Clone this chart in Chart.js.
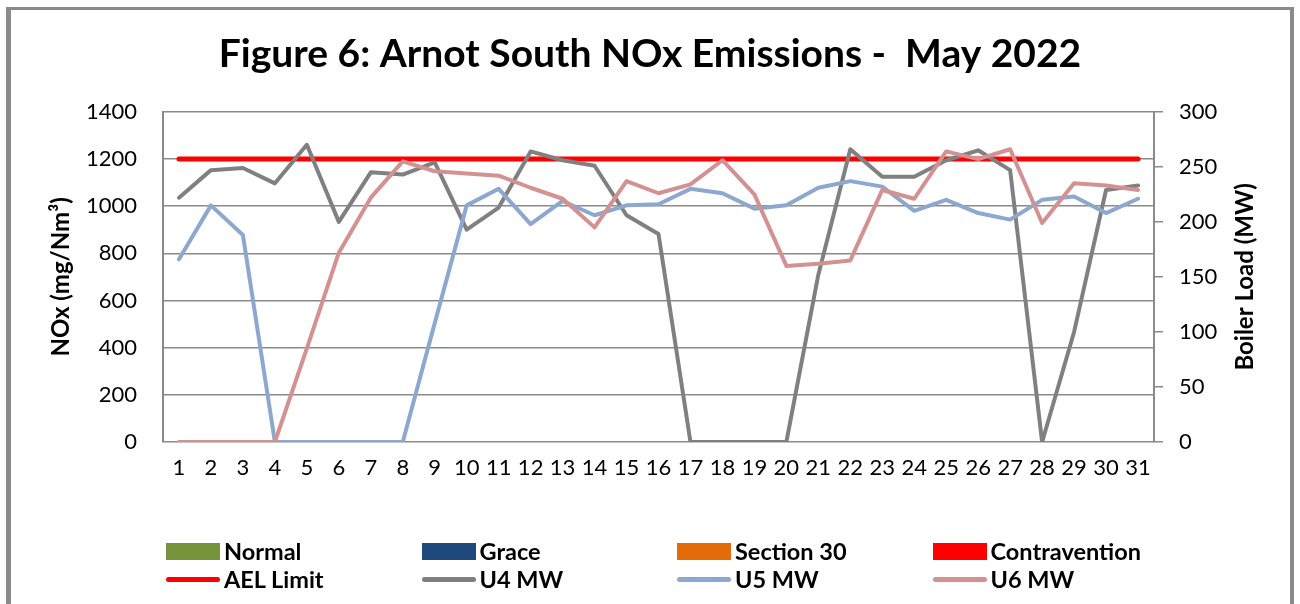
<!DOCTYPE html>
<html>
<head>
<meta charset="utf-8">
<script src="https://cdn.jsdelivr.net/npm/chart.js"></script>
<style>
  body { margin: 0; background: #fff; }
  #wrap { position: relative; width: 1300px; height: 604px; overflow: hidden; }
  #frame { position: absolute; left: 6px; top: 7px; width: 1279px; height: 700px;
           border: solid #8a8a8a; border-width: 3px 4px 0 5px; }
  canvas { position: absolute; left: 0; top: 0; }
  #legend { position: absolute; left: 166px; top: 537px; display: grid;
            grid-template-columns: repeat(4, 255.5px); grid-auto-rows: 28px;
            font: bold 23.5px Lato, sans-serif; color: #000; }
  .item { display: flex; align-items: center; white-space: nowrap; }
  .box { width: 54px; height: 17px; margin-right: 4px; }
  .line { width: 54px; height: 5px; border-radius: 3px; margin-right: 4px; }
</style>
</head>
<body>
<div id="wrap">
  <div id="frame"></div>
  <canvas id="myChart" width="1300" height="604"></canvas>
  <div id="legend"></div>
</div>
<script>
// Data

const days = ['1', '2', '3', '4', '5', '6', '7', '8', '9', '10', '11', '12', '13', '14', '15', '16',
  '17', '18', '19', '20', '21', '22', '23', '24', '25', '26', '27', '28', '29', '30', '31'];

const aelLimit = [1200, 1200, 1200, 1200, 1200, 1200, 1200, 1200, 1200, 1200, 1200, 1200, 1200, 1200, 1200, 1200,
  1200, 1200, 1200, 1200, 1200, 1200, 1200, 1200, 1200, 1200, 1200, 1200, 1200, 1200, 1200];

const u4MW = [222, 247, 249, 235, 270, 200, 245, 243, 254, 193, 213, 264, 256, 251, 206, 189,
  0, 0, 0, 0, 152, 266, 241, 241, 256, 265, 247, 0, 100, 229, 233];

const u5MW = [166, 215, 188, 0, 0, 0, 0, 0, 108, 215, 230, 198, 219, 206, 215, 216,
  230, 226, 212, 215, 231, 237, 232, 210, 220, 208, 202, 220, 223, 208, 221];

const u6MW = [0, 0, 0, 0, 85, 172, 222, 255, 246, 244, 242, 231, 221, 195, 237, 226,
  234, 256, 225, 160, 162, 165, 229, 221, 264, 257, 266, 199, 235, 233, 229];

const noxTicks = { min: 0, max: 1400, step: 200 };
const mwTicks = { min: 0, max: 300, step: 50 };

// Styles

const fontFamily = 'Lato, sans-serif';
const gridColor = '#8a8a8a';
const tickFont = { family: fontFamily, size: 22 };

function lineSet(label, data, color, axis, order, width) {
  return {
    type: 'line',
    label: label,
    data: data,
    yAxisID: axis,
    borderColor: color,
    backgroundColor: color,
    borderWidth: width || 4,
    borderCapStyle: 'round',
    borderJoinStyle: 'round',
    pointRadius: 0,
    tension: 0,
    order: order,
  };
}

function barSet(label, color) {
  return { type: 'bar', label: label, data: [], yAxisID: 'y', backgroundColor: color, order: 5 };
}

function plainNumber(value) {
  return String(value);
}

// Axis titles (right one reads bottom to top like the left one)

const axisTitles = {
  id: 'axisTitles',
  afterDraw(chart) {
    const ctx = chart.ctx;
    const mid = (chart.chartArea.top + chart.chartArea.bottom) / 2;
    ctx.save();
    ctx.font = 'bold 24px ' + fontFamily;
    ctx.fillStyle = '#000';
    ctx.textAlign = 'center';
    ctx.textBaseline = 'middle';
    [[61, 'NOx (mg/Nm³)'], [1245, 'Boiler Load (MW)']].forEach(function(t) {
      ctx.save();
      ctx.translate(t[0], mid);
      ctx.rotate(-Math.PI / 2);
      ctx.fillText(t[1], 0, 0);
      ctx.restore();
    });
    ctx.restore();
  }
};

// Chart

var ctx = document.getElementById('myChart').getContext('2d');

var chart = new Chart(ctx, {
  data: {
    labels: days,
    datasets: [
      barSet('Normal', '#77933C'),
      barSet('Grace', '#1F497D'),
      barSet('Section 30', '#E36C09'),
      barSet('Contravention', '#FF0000'),
      lineSet('AEL Limit', aelLimit, '#FF0000', 'y', 4, 5),
      lineSet('U4 MW', u4MW, '#808080', 'y1', 3),
      lineSet('U5 MW', u5MW, '#8DA8CF', 'y1', 2),
      lineSet('U6 MW', u6MW, '#D39191', 'y1', 1),
    ]
  },
  options: {
    responsive: false,
    animation: false,
    layout: { padding: { left: 0, right: 0, top: 0, bottom: 122 } },
    plugins: {
      legend: { display: false },
      tooltip: { enabled: false },
      title: {
        display: true,
        text: 'Figure 6: Arnot South NOx Emissions -  May 2022',
        color: '#000',
        font: { family: fontFamily, size: 39, weight: 'bold' },
        padding: { top: 31, bottom: 34 },
      },
    },
    scales: {
      x: {
        grid: { display: false, drawTicks: false },
        border: { display: false },
        ticks: { color: '#000', font: tickFont, padding: 13, maxRotation: 0, autoSkip: false },
        afterFit: function(s) { s.height = 40; },
      },
      y: {
        position: 'left',
        min: noxTicks.min,
        max: noxTicks.max,
        ticks: { stepSize: noxTicks.step, color: '#000', font: tickFont, padding: 26, callback: plainNumber },
        grid: { color: gridColor, lineWidth: 1.5, drawTicks: false },
        border: { color: gridColor, width: 2 },
        afterFit: function(s) { s.width = 163; },
      },
      y1: {
        position: 'right',
        min: mwTicks.min,
        max: mwTicks.max,
        ticks: { stepSize: mwTicks.step, color: '#000', font: tickFont, padding: 16, callback: plainNumber },
        grid: { drawOnChartArea: false, tickLength: 9, color: gridColor, lineWidth: 1.5 },
        border: { color: gridColor, width: 2 },
        afterFit: function(s) { s.width = 146; },
      },
    },
  },
  plugins: [axisTitles],
});

// Legend

const legendBox = document.getElementById('legend');

chart.data.datasets.forEach(function(ds) {
  const item = document.createElement('div');
  item.className = 'item';
  const mark = document.createElement('span');
  mark.className = ds.type === 'bar' ? 'box' : 'line';
  mark.style.background = ds.backgroundColor;
  const text = document.createElement('span');
  text.textContent = ds.label;
  item.appendChild(mark);
  item.appendChild(text);
  legendBox.appendChild(item);
});
</script>
</body>
</html>
